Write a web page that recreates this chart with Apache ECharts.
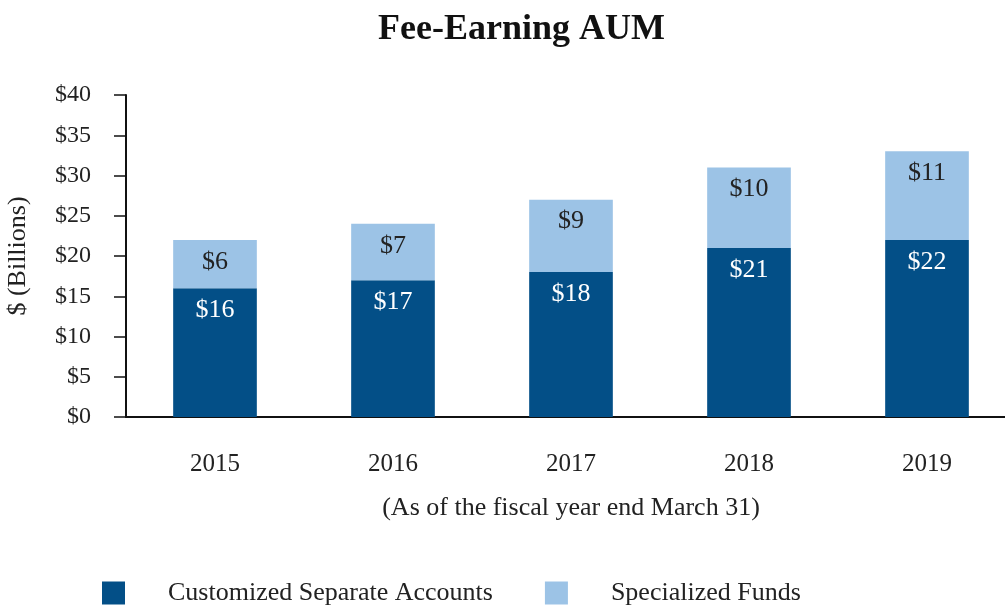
<!DOCTYPE html>
<html>
<head>
<meta charset="utf-8">
<script src="https://cdn.jsdelivr.net/npm/echarts@6/dist/echarts.min.js"></script>
<style>
  html, body { margin: 0; padding: 0; background: #fff; }
  #chart { width: 1005px; height: 608px; }
</style>
</head>
<body>
<div id="chart"></div>
<script>
// fiscal years and AUM by segment ($ billions)
const years = ['2015', '2016', '2017', '2018', '2019']
const customized = [16, 17, 18, 21, 22]
const specialized = [6, 7, 9, 10, 11]

const serif = '"Liberation Serif", "Times New Roman", serif'
const darkBlue = '#034f87'
const lightBlue = '#9cc3e6'

const chart = echarts.init(document.getElementById('chart'))

chart.setOption({
  animation: false,
  textStyle: { fontFamily: serif },
  title: {
    text: 'Fee-Earning AUM',
    left: 373,
    top: 7,
    textStyle: { fontFamily: serif, fontSize: 36, fontWeight: 'bold', color: '#111' },
  },
  legend: {
    left: 97,
    top: 575,
    itemWidth: 23,
    itemHeight: 23,
    itemGap: 52,
    icon: 'rect',
    textStyle: { fontFamily: serif, fontSize: 26, color: '#222', padding: [0, 0, 0, 38] },
    data: ['Customized Separate Accounts', 'Specialized Funds'],
  },
  grid: { left: 126, right: -11, top: 95, bottom: 191, outerBoundsMode: 'none' },
  xAxis: {
    type: 'category',
    data: years,
    name: '(As of the fiscal year end March 31)',
    nameLocation: 'middle',
    nameGap: 78,
    nameTextStyle: { fontFamily: serif, fontSize: 26, color: '#222' },
    axisLine: { lineStyle: { color: '#111', width: 2 } },
    axisTick: { alignWithLabel: true, length: 10, lineStyle: { color: '#111', width: 1.5 } },
    axisLabel: { fontFamily: serif, fontSize: 25, color: '#222', margin: 35 },
  },
  yAxis: {
    type: 'value',
    min: 0,
    max: 40,
    interval: 5,
    name: '$ (Billions)',
    nameLocation: 'middle',
    nameGap: 95,
    nameTextStyle: { fontFamily: serif, fontSize: 26, color: '#222' },
    axisLine: { show: true, lineStyle: { color: '#111', width: 2 } },
    axisTick: { show: true, length: 12, lineStyle: { color: '#111', width: 1.5 } },
    splitLine: { show: false },
    axisLabel: { fontFamily: serif, fontSize: 24, color: '#222', margin: 35, formatter: '${value}' },
  },
  series: [
    {
      name: 'Customized Separate Accounts',
      type: 'bar',
      stack: 'aum',
      barWidth: '47%',
      data: customized,
      itemStyle: { color: darkBlue },
      label: {
        show: true,
        position: 'insideTop',
        distance: 9,
        formatter: '${c}',
        fontFamily: serif,
        fontSize: 26,
        color: '#fff',
      },
    },
    {
      name: 'Specialized Funds',
      type: 'bar',
      stack: 'aum',
      barWidth: '47%',
      data: specialized,
      itemStyle: { color: lightBlue },
      label: {
        show: true,
        position: 'insideTop',
        distance: 9,
        formatter: '${c}',
        fontFamily: serif,
        fontSize: 26,
        color: '#222',
      },
    },
  ],
})
</script>
</body>
</html>
